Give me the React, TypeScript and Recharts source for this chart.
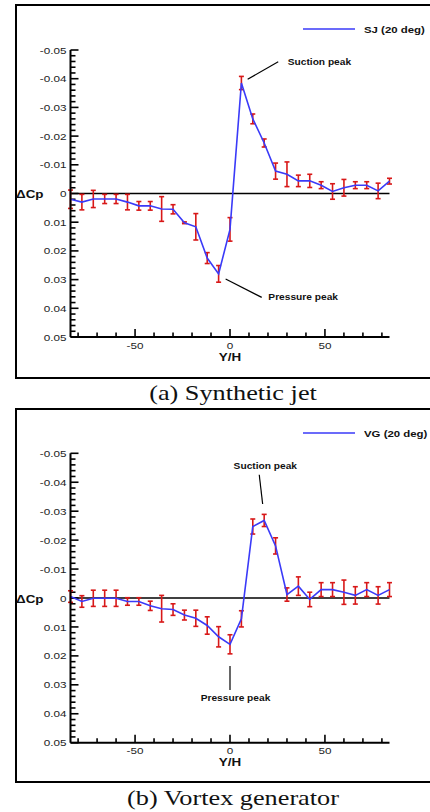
import React from 'react';
import { LineChart, Line, XAxis, YAxis, ErrorBar, ReferenceLine, ReferenceDot, Legend } from 'recharts';

// ---- data ----
const Y_OVER_H = [-84, -78, -72, -66, -60, -54, -48, -42, -36, -30, -24, -18, -12, -6, 0, 6, 12, 18, 24, 30, 36, 42, 48, 54, 60, 66, 72, 78, 84];

const SJ_DCP = [0.002, 0.003, 0.0019, 0.0019, 0.0019, 0.003, 0.0043, 0.0043, 0.0054, 0.0055, 0.0102, 0.0116, 0.0225, 0.028, 0.0125, -0.0385, -0.026, -0.0176, -0.0078, -0.0067, -0.0044, -0.0044, -0.0029, -0.0007, -0.002, -0.0029, -0.0029, -0.0009, -0.0043];
const SJ_ERR = [0.0032, 0.0027, 0.003, 0.0016, 0.0016, 0.0027, 0.0015, 0.0015, 0.0043, 0.0016, 0.0003, 0.0046, 0.0019, 0.0029, 0.0041, 0.0023, 0.0017, 0.0014, 0.0028, 0.0043, 0.002, 0.0023, 0.0012, 0.0027, 0.0029, 0.0012, 0.0012, 0.0027, 0.001];

const VG_DCP = [-0.0005, 0.0012, 0.0001, 0.0001, 0.0001, 0.0012, 0.0012, 0.0027, 0.0037, 0.004, 0.0059, 0.007, 0.0095, 0.0134, 0.016, 0.0072, -0.0247, -0.0268, -0.018, -0.0012, -0.0041, 0.0005, -0.0029, -0.0029, -0.002, -0.0009, -0.0029, -0.0009, -0.0029];
const VG_ERR = [0.002, 0.002, 0.0028, 0.0028, 0.0028, 0.0013, 0.0013, 0.0016, 0.0046, 0.002, 0.0017, 0.0028, 0.003, 0.0035, 0.0033, 0.0028, 0.0026, 0.0021, 0.0028, 0.0023, 0.0032, 0.0025, 0.0024, 0.0024, 0.0042, 0.003, 0.0024, 0.003, 0.0024];

const X_TICKS = [-80, -70, -60, -50, -40, -30, -20, -10, 0, 10, 20, 30, 40, 50, 60, 70, 80];
const X_LABELED = [-50, 0, 50];
const Y_LABELS = [-0.05, -0.04, -0.03, -0.02, -0.01, 0, 0.01, 0.02, 0.03, 0.04, 0.05];
const Y_MINOR_STEP = 0.002;

const SERIES_NAMES = ['SJ (20 deg)', 'VG (20 deg)'];
const CAPTIONS = ['(a) Synthetic jet', '(b) Vortex generator'];

// ---- style ----
const SANS = '"Liberation Sans", Arial, sans-serif';
const SERIF = '"Liberation Serif", "Times New Roman", serif';
const STRETCH = 1.22;
const LINE_COLOR = '#3a3af8';
const ERR_COLOR = '#d81818';

const yTicks: number[] = [];
for (let k = 0; k <= 50; k++) yTicks.push(Math.round((-0.05 + k * Y_MINOR_STEP) * 10000) / 10000);

const isMajorY = (v: number) => Y_LABELS.some((l) => Math.abs(l - v) < 1e-9);
const fmtY = (v: number) => (Math.abs(v) < 1e-9 ? '0' : v.toFixed(2));

const YLabel = (props: any) => {
  const x = Number(props.x);
  const y = Number(props.y);
  const v = Number(props.payload.value);
  if (!isMajorY(v)) return <g />;
  return (
    <g>
      <text transform={`translate(${x - 4},${y}) scale(${STRETCH},1)`} textAnchor="end" dominantBaseline="central" fontSize={9.6} fontFamily={SANS} fill="#222" stroke="none">
        {fmtY(v)}
      </text>
      {Math.abs(v) < 1e-9 && (
        <text transform={`translate(${x - 54.5},${y + 1}) scale(${STRETCH},1)`} textAnchor="start" dominantBaseline="central" fontSize={11} fontWeight="bold" fontFamily={SANS} fill="#111" stroke="none">
          ΔCp
        </text>
      )}
    </g>
  );
};

const XLabel = (props: any) => {
  const x = Number(props.x);
  const y = Number(props.y);
  const v = Number(props.payload.value);
  if (!X_LABELED.includes(v)) return <g />;
  return (
    <g>
      <text transform={`translate(${x},${y + 8}) scale(${STRETCH},1)`} textAnchor="middle" dominantBaseline="central" fontSize={9.6} fontFamily={SANS} fill="#222" stroke="none">
        {v}
      </text>
      {v === 0 && (
        <text transform={`translate(${x},${y + 20}) scale(${STRETCH},1)`} textAnchor="middle" dominantBaseline="central" fontSize={11} fontWeight="bold" fontFamily={SANS} fill="#111" stroke="none">
          Y/H
        </text>
      )}
    </g>
  );
};

// inward tick marks drawn as short reference-line shapes
const yTickShape = (len: number) => (p: any) => {
  const x0 = Math.min(Number(p.x1), Number(p.x2));
  const y = Number(p.y1);
  return <path d={`M${x0},${y}H${x0 + len}`} stroke="#000" strokeWidth={1.6} fill="none" />;
};
const xTickShape = (len: number) => (p: any) => {
  const y0 = Math.max(Number(p.y1), Number(p.y2));
  const x = Number(p.x1);
  return <path d={`M${x},${y0}V${y0 - len}`} stroke="#000" strokeWidth={1.6} fill="none" />;
};

const annText = (label: string, anchor: 'start' | 'middle') => (p: any) => (
  <text transform={`translate(${p.cx},${p.cy}) scale(1.2,1)`} textAnchor={anchor} dominantBaseline="central" fontSize={8.5} fontWeight="bold" fontFamily={SANS} fill="#111">
    {label}
  </text>
);

type Ann = { text: string; tx: number; ty: number; anchor: 'start' | 'middle'; seg: [number, number, number, number] };

const SJ_ANN: Ann[] = [
  { text: 'Suction peak', tx: 30.4, ty: -0.0458, anchor: 'start', seg: [9.3, -0.0398, 25.4, -0.0459] },
  { text: 'Pressure peak', tx: 20.2, ty: 0.0362, anchor: 'start', seg: [-2.3, 0.0298, 16.7, 0.0362] },
];
const VG_ANN: Ann[] = [
  { text: 'Suction peak', tx: 18.6, ty: -0.0454, anchor: 'middle', seg: [15.4, -0.0426, 17.2, -0.0325] },
  { text: 'Pressure peak', tx: 2.9, ty: 0.0345, anchor: 'middle', seg: [0, 0.0235, 0, 0.0318] },
];

const LegendBox = ({ name }: { name: string }) => (
  <div style={{ display: 'flex', alignItems: 'center', height: 12 }}>
    <svg width={52} height={4} style={{ display: 'block' }}>
      <line x1={0} y1={2} x2={52} y2={2} stroke={LINE_COLOR} strokeWidth={1.6} />
    </svg>
    <span style={{ marginLeft: 9, fontFamily: SANS, fontWeight: 'bold', fontSize: 9.5, color: '#111', whiteSpace: 'nowrap', display: 'inline-block', transform: `scaleX(1.2)`, transformOrigin: 'left center' }}>
      {name}
    </span>
  </div>
);

type PanelProps = { values: number[]; errs: number[]; name: string; anns: Ann[]; top: number; mTop: number; mBottom: number };

const Panel = ({ values, errs, name, anns, top, mTop, mBottom }: PanelProps) => {
  const rows = Y_OVER_H.map((x, i) => ({ x, dcp: values[i], err: errs[i] }));
  return (
    <div style={{ position: 'absolute', left: 0, top, width: 430, height: 400 }}>
      <LineChart width={430} height={400} data={rows} margin={{ top: mTop, right: 40.5, bottom: mBottom - 1, left: 69.5 }}>
        <XAxis
          dataKey="x"
          type="number"
          domain={[-84, 84]}
          ticks={X_TICKS}
          interval={0}
          height={1}
          tickSize={0}
          tickMargin={0}
          tickLine={false}
          tick={XLabel}
          axisLine={{ stroke: '#000', strokeWidth: 2 }}
        />
        <YAxis
          type="number"
          domain={[-0.05, 0.05]}
          reversed
          ticks={yTicks}
          interval={0}
          width={1}
          tickSize={0}
          tickMargin={0}
          tickLine={false}
          tick={YLabel}
          axisLine={{ stroke: '#000', strokeWidth: 2 }}
        />
        {yTicks.map((v) => (
          <ReferenceLine key={'yt' + v} y={v} stroke="#000" shape={yTickShape(isMajorY(v) ? 8 : 5)} />
        ))}
        {X_TICKS.map((v) => (
          <ReferenceLine key={'xt' + v} x={v} stroke="#000" shape={xTickShape(X_LABELED.includes(v) ? 8 : 4.5)} />
        ))}
        <ReferenceLine y={0} stroke="#000" strokeWidth={1.5} />
        {anns.map((a, i) => (
          <ReferenceLine key={'l' + i} segment={[{ x: a.seg[0], y: a.seg[1] }, { x: a.seg[2], y: a.seg[3] }]} stroke="#000" strokeWidth={1.2} />
        ))}
        {anns.map((a, i) => (
          <ReferenceDot key={'t' + i} x={a.tx} y={a.ty} r={0} shape={annText(a.text, a.anchor)} />
        ))}
        <Line type="linear" dataKey="dcp" name={name} stroke={LINE_COLOR} strokeWidth={1.6} dot={false} isAnimationActive={false}>
          <ErrorBar dataKey="err" width={2.5} stroke={ERR_COLOR} strokeWidth={1.6} direction="y" />
        </Line>
        <Legend
          layout="vertical"
          align="center"
          verticalAlign="middle"
          wrapperStyle={{ position: 'absolute', left: 303, top: 23, width: 130, height: 12 }}
          content={() => <LegendBox name={name} />}
        />
      </LineChart>
    </div>
  );
};

const Frame = ({ top }: { top: number }) => (
  <div style={{ position: 'absolute', left: 15, top, width: 420, height: 375, border: '2px solid #000', boxSizing: 'border-box', pointerEvents: 'none' }} />
);

const Caption = ({ text, cy }: { text: string; cy: number }) => (
  <div
    style={{
      position: 'absolute',
      left: 232.5,
      top: cy - 11,
      fontFamily: SERIF,
      fontSize: 21,
      lineHeight: '22px',
      whiteSpace: 'nowrap',
      color: '#111',
      transform: 'translateX(-50%) scaleX(1.25)',
    }}
  >
    {text}
  </div>
);

export default function App() {
  return (
    <div style={{ position: 'absolute', left: 0, top: 0, width: 430, height: 812, background: '#fff', overflow: 'hidden' }}>
      <Frame top={4} />
      <Frame top={408} />
      <Panel values={SJ_DCP} errs={SJ_ERR} name={SERIES_NAMES[0]} anns={SJ_ANN} top={0} mTop={50} mBottom={63} />
      <Panel values={VG_DCP} errs={VG_ERR} name={SERIES_NAMES[1]} anns={VG_ANN} top={404} mTop={49.3} mBottom={61.3} />
      <Caption text={CAPTIONS[0]} cy={393} />
      <Caption text={CAPTIONS[1]} cy={798} />
    </div>
  );
}
